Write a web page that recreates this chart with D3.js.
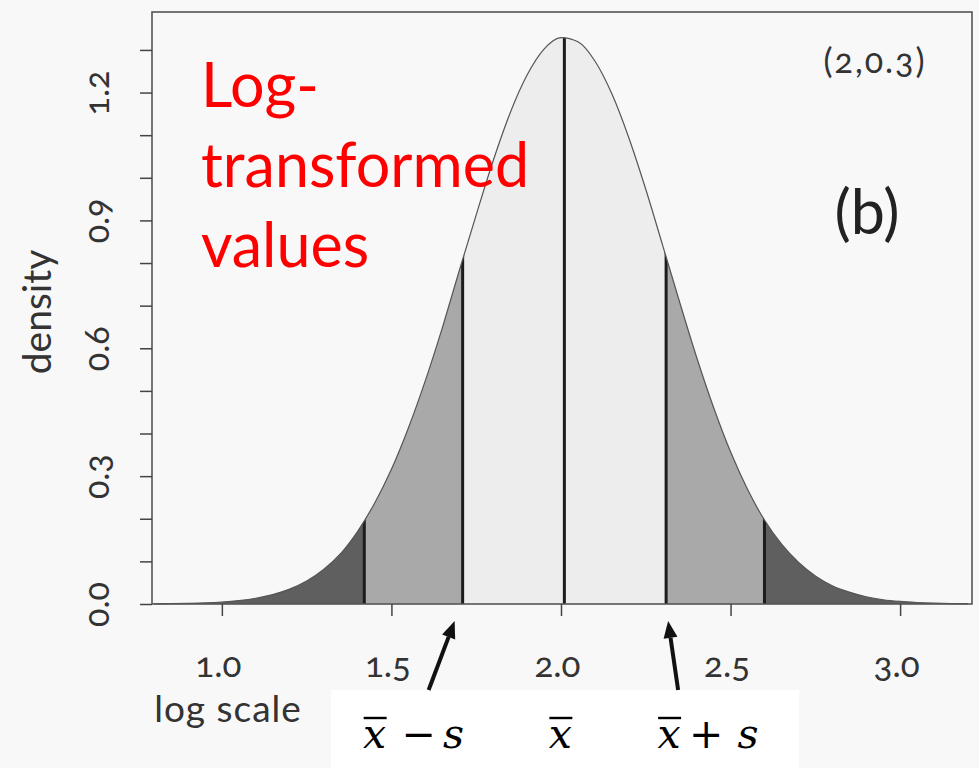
<!DOCTYPE html>
<html>
<head>
<meta charset="utf-8">
<script src="https://cdn.jsdelivr.net/npm/d3@7"></script>
<style>
  body { margin: 0; background: #f8f8f8; }
  svg { display: block; }
</style>
</head>
<body>
<svg id="chart" width="979" height="768"></svg>
<script>
// Density of the log-transformed values, mean 2 and sd 0.3
const curveX = [0.80, 0.85, 0.90, 0.95, 1.00, 1.05, 1.10, 1.15, 1.20, 1.25, 1.30, 1.35,
                1.40, 1.45, 1.50, 1.55, 1.60, 1.65, 1.70, 1.75, 1.80, 1.85, 1.90, 1.95,
                2.00, 2.05, 2.10, 2.15, 2.20, 2.25, 2.30, 2.35, 2.40, 2.45, 2.50, 2.55,
                2.60, 2.65, 2.70, 2.75, 2.80, 2.85, 2.90, 2.95, 3.00, 3.05, 3.10, 3.15, 3.20];
const curveDensity = [0.0004, 0.0008, 0.0015, 0.0026, 0.0047, 0.0081, 0.0135, 0.022, 0.035, 0.054, 0.081, 0.118,
                      0.170, 0.236, 0.316, 0.413, 0.524, 0.648, 0.782, 0.913, 1.040, 1.152, 1.241, 1.302,
                      1.329, 1.319, 1.274, 1.197, 1.094, 0.973, 0.841, 0.708, 0.579, 0.461, 0.357, 0.269,
                      0.197, 0.141, 0.098, 0.066, 0.043, 0.028, 0.017, 0.010, 0.006, 0.0035, 0.0019, 0.001, 0.0005];

// Vertical markers at mean - 2s, mean - s, mean, mean + s, mean + 2s
const sdBounds = [1.42, 1.71, 2.01, 2.31, 2.60];

// Axis ticks
const xTicks = [1.0, 1.5, 2.0, 2.5, 3.0];
const xTickLabels = ["1.0", "1.5", "2.0", "2.5", "3.0"];
const yTicks = [0.0, 0.1, 0.2, 0.3, 0.4, 0.5, 0.6, 0.7, 0.8, 0.9, 1.0, 1.1, 1.2, 1.3];
const yTickLabels = ["0.0", "", "", "0.3", "", "", "0.6", "", "", "0.9", "", "", "1.2", ""];

// Text
const titleLines = ["Log-", "transformed", "values"];
const paramLabel = "(2,0.3)";
const panelLabel = "(b)";
const xTitle = "log scale";
const yTitle = "density";

const svg = d3.select("#chart");
const W = 979, H = 768;
const frame = { left: 152, right: 972, top: 12, bottom: 604 };

svg.append("rect").attr("width", W).attr("height", H).attr("fill", "#f8f8f8");

const x = d3.scaleLinear().domain([0.794, 3.212]).range([frame.left, frame.right]);
const y = d3.scaleLinear().domain([0, 1.389]).range([frame.bottom, frame.top]);

const pts = curveX.map((v, i) => [v, curveDensity[i]]);

const area = d3.area()
  .x(d => x(d[0]))
  .y0(y(0))
  .y1(d => y(d[1]))
  .curve(d3.curveMonotoneX);
const line = d3.line()
  .x(d => x(d[0]))
  .y(d => y(d[1]))
  .curve(d3.curveMonotoneX);

const defs = svg.append("defs");
defs.append("clipPath").attr("id", "under")
  .append("path").attr("d", area(pts));

// Shaded bands under the curve
const [lo, hi] = x.domain();
const bands = [
  [lo, sdBounds[0]], [sdBounds[0], sdBounds[1]], [sdBounds[1], sdBounds[3]],
  [sdBounds[3], sdBounds[4]], [sdBounds[4], hi]
];
const bandFill = ["#5f5f5f", "#a9a9a9", "#ededed", "#a9a9a9", "#5f5f5f"];

const plot = svg.append("g");
plot.append("g").attr("clip-path", "url(#under)")
  .selectAll("rect").data(bands).join("rect")
  .attr("x", d => x(d[0]))
  .attr("width", d => x(d[1]) - x(d[0]))
  .attr("y", y(y.domain()[1]))
  .attr("height", y(0) - y(y.domain()[1]))
  .attr("fill", (d, i) => bandFill[i]);

// Vertical markers, cut off at the curve
plot.append("g").attr("clip-path", "url(#under)")
  .selectAll("line").data(sdBounds).join("line")
  .attr("x1", d => x(d)).attr("x2", d => x(d))
  .attr("y1", y(0)).attr("y2", y(y.domain()[1]))
  .attr("stroke", "#1c1c1c").attr("stroke-width", 3);

// Density curve
plot.append("path").attr("d", line(pts))
  .attr("fill", "none").attr("stroke", "#555").attr("stroke-width", 1.2);

// Frame
svg.append("rect")
  .attr("x", frame.left).attr("y", frame.top)
  .attr("width", frame.right - frame.left).attr("height", frame.bottom - frame.top)
  .attr("fill", "none").attr("stroke", "#555").attr("stroke-width", 1.6);

const tickFont = "Lato, 'Open Sans', sans-serif";

// Y axis
const yAxis = svg.append("g").attr("transform", `translate(${frame.left},0)`)
  .call(d3.axisLeft(y).tickValues(yTicks).tickSize(12).tickPadding(0)
    .tickFormat((d, i) => yTickLabels[i]));
yAxis.select(".domain").remove();
yAxis.selectAll(".tick line").attr("stroke", "#444").attr("stroke-width", 1.5);
yAxis.selectAll(".tick text")
  .attr("x", null).attr("dy", null)
  .attr("transform", "translate(-55,0) rotate(-90)")
  .attr("dy", "0.36em")
  .attr("text-anchor", "middle")
  .attr("fill", "#333")
  .style("font-family", tickFont)
  .style("font-size", "34px")
  .style("font-variant-numeric", "oldstyle-nums");

// X axis
const xAxis = svg.append("g").attr("transform", `translate(0,${frame.bottom})`)
  .call(d3.axisBottom(x).tickValues(xTicks).tickSize(12).tickPadding(0)
    .tickFormat((d, i) => xTickLabels[i]));
xAxis.select(".domain").remove();
xAxis.selectAll(".tick line").attr("stroke", "#444").attr("stroke-width", 1.5);
xAxis.selectAll(".tick text")
  .attr("y", 73).attr("dy", null)
  .attr("dx", -4)
  .attr("fill", "#333")
  .style("font-family", tickFont)
  .style("font-size", "35px")
  .style("font-variant-numeric", "oldstyle-nums");

// Axis titles
svg.append("text")
  .attr("transform", `translate(51,${(frame.top + frame.bottom) / 2 + 4}) rotate(-90)`)
  .attr("text-anchor", "middle")
  .attr("fill", "#333")
  .style("font-family", tickFont).style("font-size", "39px")
  .text(yTitle);
svg.append("text")
  .attr("x", 228).attr("y", 722)
  .attr("text-anchor", "middle")
  .attr("fill", "#333")
  .style("font-family", tickFont).style("font-size", "37px")
  .style("letter-spacing", "1px")
  .text(xTitle);

// Corner labels
svg.append("text")
  .attr("x", 875).attr("y", 73)
  .attr("text-anchor", "middle")
  .attr("fill", "#333")
  .style("font-family", tickFont).style("font-size", "34px")
  .style("letter-spacing", "2px")
  .style("font-variant-numeric", "oldstyle-nums")
  .text(paramLabel);
svg.append("text")
  .attr("x", 867).attr("y", 234)
  .attr("text-anchor", "middle")
  .attr("fill", "#222")
  .style("font-family", tickFont).style("font-size", "61px")
  .text(panelLabel);

// Red title
svg.append("text")
  .attr("fill", "#ff0000")
  .style("font-family", tickFont).style("font-size", "61px")
  .selectAll("tspan").data(titleLines).join("tspan")
  .attr("x", 201)
  .attr("y", (d, i) => 107 + i * 80)
  .text(d => d);

// Annotation strip under the axis
svg.append("rect")
  .attr("x", 331).attr("y", 690).attr("width", 468).attr("height", 78)
  .attr("fill", "#ffffff");

function arrow(x1, y1, x2, y2) {
  const ang = Math.atan2(y2 - y1, x2 - x1);
  const head = 17, half = 7;
  const bx = x2 - head * Math.cos(ang), by = y2 - head * Math.sin(ang);
  svg.append("line")
    .attr("x1", x1).attr("y1", y1).attr("x2", bx).attr("y2", by)
    .attr("stroke", "#111").attr("stroke-width", 4);
  const px = -Math.sin(ang) * half, py = Math.cos(ang) * half;
  svg.append("path")
    .attr("d", `M${x2},${y2}L${bx + px},${by + py}L${bx - px},${by - py}Z`)
    .attr("fill", "#111");
}

const xmLeft = x(sdBounds[1]), xmMid = x(sdBounds[2]), xmRight = x(sdBounds[3]);
arrow(xmLeft - 34, 690, xmLeft - 8, 621);
arrow(xmRight + 12, 690, xmRight + 2, 621);

// Math labels: x-bar - s, x-bar, x-bar + s
const mathFont = "'DejaVu Serif', 'Liberation Serif', serif";
function mathLabel(cx, op) {
  const g = svg.append("g");
  const xPos = op ? cx - 41 : cx;
  g.append("text").attr("x", xPos).attr("y", 748).attr("text-anchor", "middle")
    .style("font-family", mathFont).style("font-style", "italic").style("font-size", "41px")
    .attr("fill", "#000").text("x");
  g.append("line").attr("x1", xPos - 11).attr("x2", xPos + 12)
    .attr("y1", 718).attr("y2", 718).attr("stroke", "#000").attr("stroke-width", 2.4);
  if (op) {
    g.append("text").attr("x", cx + (op === "−" ? 3 : -4)).attr("y", 748).attr("text-anchor", "middle")
      .style("font-family", mathFont).style("font-size", "41px")
      .attr("fill", "#000").text(op);
    g.append("text").attr("x", cx + 38).attr("y", 748).attr("text-anchor", "middle")
      .style("font-family", mathFont).style("font-style", "italic").style("font-size", "41px")
      .attr("fill", "#000").text("s");
  }
}
mathLabel(xmLeft - 47, "−");
mathLabel(xmMid - 4, null);
mathLabel(xmRight + 44, "+");
</script>
</body>
</html>
